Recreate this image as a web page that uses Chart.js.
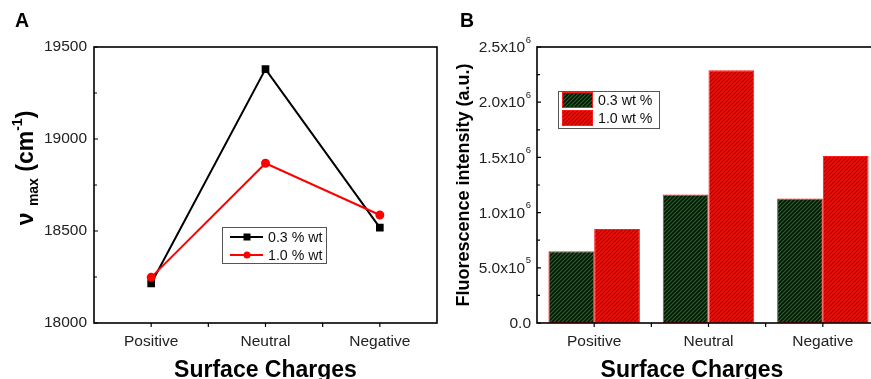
<!DOCTYPE html>
<html>
<head>
<meta charset="utf-8">
<script src="https://cdn.jsdelivr.net/npm/chart.js@4.4.1/dist/chart.umd.min.js"></script>
<style>
    html, body { margin: 0; padding: 0; background: #fff; overflow: hidden; }
    #wrap { position: relative; width: 871px; height: 379px; overflow: hidden; }
    #chartA { position: absolute; left: 0; top: 0; }
    #chartB { position: absolute; left: 440px; top: 0; }
</style>
</head>
<body>
<div id="wrap">
    <canvas id="chartA" width="440" height="379"></canvas>
    <canvas id="chartB" width="445" height="379"></canvas>
</div>
<script>
// data
const categories = ['Positive', 'Neutral', 'Negative'];
const seriesNames = ['0.3 % wt', '1.0 % wt'];
const barNames = ['0.3 wt %', '1.0 wt %'];
const numaxLow = [18215, 19380, 18518];
const numaxHigh = [18248, 18868, 18587];
const fluorLow = [650000, 1164000, 1128000];
const fluorHigh = [852000, 2289000, 1512000];
const numaxRange = [18000, 19500, 500];
const fluorRange = [0, 2500000, 500000];

const FONT = '"Liberation Sans", Arial, sans-serif';
Chart.defaults.font.family = FONT;
Chart.defaults.color = '#222';
Chart.defaults.animation = false;

// hatched fills like the original bars
function makeHatch(bg, fg) {
    const c = document.createElement('canvas');
    c.width = 4; c.height = 4;
    const g = c.getContext('2d');
    g.fillStyle = bg;
    g.fillRect(0, 0, 4, 4);
    g.strokeStyle = fg;
    g.lineWidth = 1.1;
    g.beginPath();
    g.moveTo(-1, 5); g.lineTo(5, -1);
    g.moveTo(-1, 1); g.lineTo(1, -1);
    g.moveTo(3, 5); g.lineTo(5, 3);
    g.stroke();
    return g.createPattern(c, 'repeat');
}
const darkHatch = makeHatch('#071407', '#1c6e22');
const redHatch = makeHatch('#f01008', '#a80000');

// splits 1500000 into mantissa text and exponent, e.g. ['1.5x10', '6']
function sciParts(v) {
    if (v === 0) return ['0.0', ''];
    const exp = Math.floor(Math.log10(v));
    const mant = (v / Math.pow(10, exp)).toFixed(1);
    return [mant + 'x10', String(exp)];
}

// frame box, inward y ticks, outward x ticks
const frameTicks = {
    id: 'frameTicks',
    afterDatasetsDraw(chart) {
        const { ctx, chartArea: a, scales: { x, y } } = chart;
        ctx.save();
        ctx.strokeStyle = '#000';
        ctx.lineWidth = 1.6;
        ctx.strokeRect(a.left, a.top, a.right - a.left, a.bottom - a.top);
        ctx.lineWidth = 1.2;
        ctx.beginPath();
        const vals = y.ticks.map(t => t.value);
        vals.forEach((v, i) => {
            const py = y.getPixelForValue(v);
            ctx.moveTo(a.left, py); ctx.lineTo(a.left + 4, py);
            if (i < vals.length - 1) {
                const my = y.getPixelForValue((v + vals[i + 1]) / 2);
                ctx.moveTo(a.left, my); ctx.lineTo(a.left + 3, my);
            }
        });
        for (let i = 0; i < categories.length; i++) {
            const cx = x.getPixelForValue(i);
            ctx.moveTo(cx, a.bottom); ctx.lineTo(cx, a.bottom + 4);
            if (i < categories.length - 1) {
                const mx = (cx + x.getPixelForValue(i + 1)) / 2;
                ctx.moveTo(mx, a.bottom); ctx.lineTo(mx, a.bottom + 4);
            }
        }
        ctx.stroke();
        ctx.restore();
    }
};

// y labels of panel B with a real superscript exponent
const sciTicks = {
    id: 'sciTicks',
    afterDraw(chart, args, o) {
        if (!o.on) return;
        const { ctx, scales: { y } } = chart;
        ctx.save();
        ctx.fillStyle = '#222';
        ctx.textBaseline = 'middle';
        ctx.textAlign = 'right';
        const right = y.right - o.gap;
        y.ticks.forEach(t => {
            const py = y.getPixelForValue(t.value);
            const [mant, exp] = sciParts(t.value);
            let xEnd = right;
            if (exp) {
                ctx.font = '9.5px ' + FONT;
                ctx.fillText(exp, right, py - 7);
                xEnd = right - ctx.measureText(exp).width - 0.5;
            }
            ctx.font = '15.5px ' + FONT;
            ctx.fillText(mant, xEnd, py + 1);
        });
        ctx.restore();
    }
};

// legend box inside the plot, like the original
const boxLegend = {
    id: 'boxLegend',
    afterDraw(chart, args, o) {
        const ctx = chart.ctx;
        ctx.save();
        ctx.fillStyle = '#fff';
        ctx.fillRect(o.x, o.y, o.w, o.h);
        ctx.strokeStyle = '#555';
        ctx.lineWidth = 1;
        ctx.strokeRect(o.x + 0.5, o.y + 0.5, o.w, o.h);
        ctx.font = '14.2px ' + FONT;
        ctx.textBaseline = 'middle';
        chart.data.datasets.forEach((ds, i) => {
            const cy = o.y + o.first + i * o.step;
            if (o.kind === 'line') {
                ctx.strokeStyle = ds.borderColor;
                ctx.lineWidth = 2;
                ctx.beginPath();
                ctx.moveTo(o.x + 8, cy); ctx.lineTo(o.x + 41, cy);
                ctx.stroke();
                ctx.fillStyle = ds.pointBackgroundColor;
                const mx = o.x + 25;
                if (ds.pointStyle === 'rect') {
                    ctx.fillRect(mx - 3.5, cy - 3.5, 7, 7);
                } else {
                    ctx.beginPath();
                    ctx.arc(mx, cy, 3.5, 0, Math.PI * 2);
                    ctx.fill();
                }
            } else {
                ctx.fillStyle = ds.backgroundColor;
                ctx.fillRect(o.x + 4, cy - 8, 31, 16);
                ctx.strokeStyle = ds.borderColor;
                ctx.lineWidth = 1;
                ctx.strokeRect(o.x + 4.5, cy - 7.5, 30, 15);
            }
            ctx.fillStyle = '#111';
            ctx.fillText(ds.label, o.x + o.textX, cy + 1);
        });
        ctx.restore();
    }
};

// panel letter and axis titles (with sub/superscripts)
const titles = {
    id: 'titles',
    afterDraw(chart, args, o) {
        const ctx = chart.ctx;
        ctx.save();
        ctx.fillStyle = '#000';
        ctx.font = 'bold 19.5px ' + FONT;
        ctx.textBaseline = 'alphabetic';
        ctx.fillText(o.panel, o.panelX, 27);
        ctx.font = 'bold 23px ' + FONT;
        ctx.textAlign = 'center';
        ctx.fillText('Surface Charges', o.xTitleX, 377);
        ctx.translate(o.yTitleX, o.yTitleY);
        ctx.rotate(-Math.PI / 2);
        ctx.textAlign = 'left';
        const parts = o.yParts;
        let total = 0;
        parts.forEach(p => { ctx.font = p.font; total += ctx.measureText(p.t).width; });
        let u = -total / 2;
        parts.forEach(p => {
            ctx.font = p.font;
            ctx.fillText(p.t, u, p.dy);
            u += ctx.measureText(p.t).width;
        });
        ctx.restore();
    }
};

function fixedY(width) {
    return function(scale) { scale.width = width; };
}
function fixedX(height) {
    return function(scale) {
        scale.height = height;
        scale.paddingLeft = 0;
        scale.paddingRight = 0;
    };
}

new Chart(document.getElementById('chartA'), {
    type: 'line',
    data: {
        labels: categories,
        datasets: [{
            label: seriesNames[0],
            data: numaxLow,
            borderColor: '#000',
            backgroundColor: '#000',
            pointBackgroundColor: '#000',
            pointBorderColor: '#000',
            pointStyle: 'rect',
            pointRadius: 4,
            borderWidth: 2,
            order: 2
        }, {
            label: seriesNames[1],
            data: numaxHigh,
            borderColor: '#ff0000',
            backgroundColor: '#ff0000',
            pointBackgroundColor: '#ff0000',
            pointBorderColor: '#ff0000',
            pointStyle: 'circle',
            pointRadius: 3.5,
            borderWidth: 2,
            order: 1
        }]
    },
    options: {
        responsive: false,
        layout: { autoPadding: false, padding: { left: 0, top: 47, right: 3, bottom: 0 } },
        plugins: {
            legend: { display: false },
            tooltip: { enabled: false },
            sciTicks: { on: false },
            boxLegend: { kind: 'line', x: 222, y: 227, w: 104, h: 36, first: 10, step: 18, textX: 46 },
            titles: {
                panel: 'A', panelX: 15, xTitleX: 265.5, yTitleX: 33, yTitleY: 168,
                yParts: [
                    { t: '\u03bd ', font: 'bold 23px ' + FONT, dy: 0 },
                    { t: 'max', font: 'bold 14px ' + FONT, dy: 5 },
                    { t: ' (cm', font: 'bold 23px ' + FONT, dy: 0 },
                    { t: '-1', font: 'bold 14px ' + FONT, dy: -11 },
                    { t: ')', font: 'bold 23px ' + FONT, dy: 0 }
                ]
            }
        },
        scales: {
            x: {
                offset: true,
                afterFit: fixedX(56),
                grid: { display: false, drawTicks: false },
                border: { display: false },
                ticks: { font: { size: 15.5 }, padding: 9, maxRotation: 0 }
            },
            y: {
                min: numaxRange[0],
                max: numaxRange[1],
                afterFit: fixedY(94),
                grid: { display: false, drawTicks: false },
                border: { display: false },
                ticks: {
                    stepSize: numaxRange[2],
                    font: { size: 15.5 },
                    padding: 7,
                    callback: v => String(v)
                }
            }
        }
    },
    plugins: [frameTicks, boxLegend, titles, sciTicks]
});

new Chart(document.getElementById('chartB'), {
    type: 'bar',
    data: {
        labels: categories,
        datasets: [{
            label: barNames[0],
            data: fluorLow,
            backgroundColor: darkHatch,
            borderColor: '#ff1a1a',
            borderWidth: 1,
            borderSkipped: false
        }, {
            label: barNames[1],
            data: fluorHigh,
            backgroundColor: redHatch,
            borderColor: '#ff1a1a',
            borderWidth: 1,
            borderSkipped: false
        }]
    },
    options: {
        responsive: false,
        layout: { autoPadding: false, padding: { left: 0, top: 47, right: 5, bottom: 0 } },
        datasets: { bar: { categoryPercentage: 0.8, barPercentage: 1.0 } },
        plugins: {
            legend: { display: false },
            tooltip: { enabled: false },
            sciTicks: { on: true, gap: 6 },
            boxLegend: { kind: 'bar', x: 118, y: 91, w: 101, h: 37, first: 9, step: 18, textX: 40 },
            titles: {
                panel: 'B', panelX: 20, xTitleX: 252, yTitleX: 29, yTitleY: 185,
                yParts: [
                    { t: 'Fluorescence intensity (a.u.)', font: 'bold 18px ' + FONT, dy: 0 }
                ]
            }
        },
        scales: {
            x: {
                offset: true,
                afterFit: fixedX(56),
                grid: { display: false, drawTicks: false },
                border: { display: false },
                ticks: { font: { size: 15.5 }, padding: 9, maxRotation: 0 }
            },
            y: {
                min: fluorRange[0],
                max: fluorRange[1],
                afterFit: fixedY(97),
                grid: { display: false, drawTicks: false },
                border: { display: false },
                ticks: { stepSize: fluorRange[2], display: false }
            }
        }
    },
    plugins: [frameTicks, boxLegend, titles, sciTicks]
});
</script>
</body>
</html>
